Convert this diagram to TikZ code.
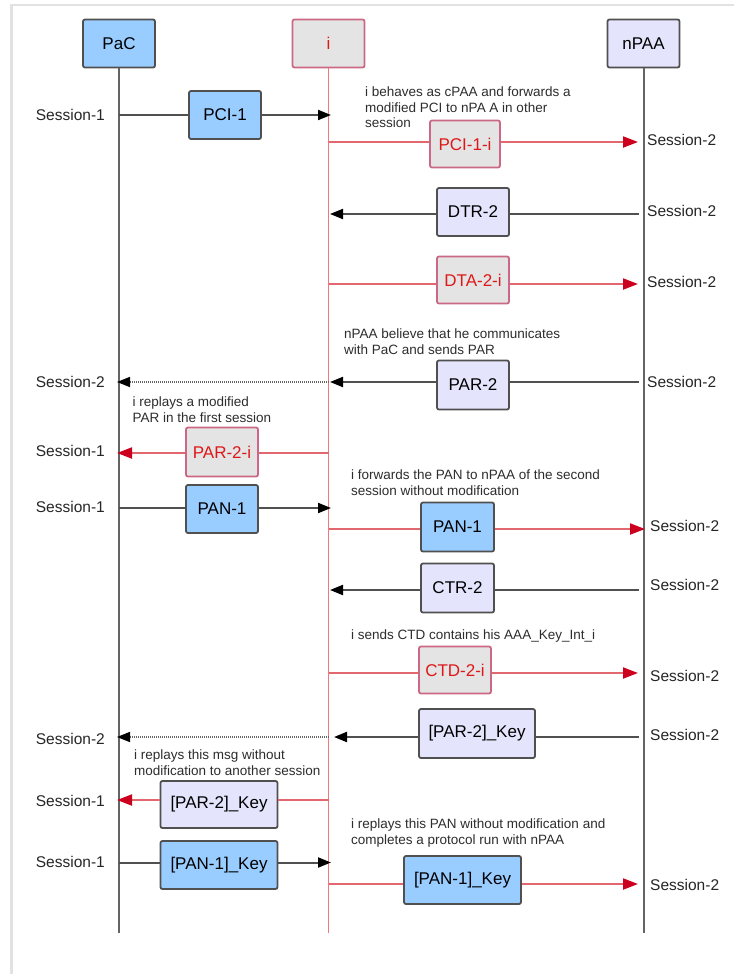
\documentclass[tikz,border=0pt]{standalone}
\usepackage{fontspec}
\setmainfont{Liberation Sans}
\usetikzlibrary{arrows.meta}

\definecolor{boxblue}{RGB}{153,204,255}
\definecolor{boxlav}{RGB}{228,228,252}
\definecolor{boxgray}{RGB}{228,228,228}
\definecolor{edgedark}{RGB}{80,80,80}
\definecolor{edgepink}{RGB}{204,104,134}
\definecolor{redline}{RGB}{226,104,112}
\definecolor{redlife}{RGB}{240,120,120}
\definecolor{redtip}{RGB}{204,0,30}
\definecolor{redtext}{RGB}{222,24,24}
\definecolor{lifegray}{RGB}{100,100,100}
\definecolor{framegray}{RGB}{226,226,226}
\definecolor{notegray}{RGB}{45,45,45}

\begin{document}
\begin{tikzpicture}[x=1pt,y=-1pt,
  boxbase/.style={rounded corners=2pt, line width=1.8pt, inner sep=0pt,
    minimum width=72pt, minimum height=48pt, font=\fontsize{17}{20}\selectfont},
  blue/.style={boxbase, fill=boxblue, draw=edgedark},
  lav/.style={boxbase, fill=boxlav, draw=edgedark},
  fake/.style={boxbase, fill=boxgray, draw=edgepink, text=redtext},
  wide/.style={minimum width=116pt},
  life/.style={draw=lifegray, line width=2pt},
  lifei/.style={draw=redlife, line width=1.4pt},
  msg/.style={draw=edgedark, line width=2pt},
  rmsg/.style={draw=redline, line width=2pt},
  relay/.style={draw=black!60, line width=1.6pt, dash pattern=on 1pt off 1pt},
  tipk/.style={-{Triangle[length=13pt,width=10pt,color=black]}},
  tipr/.style={-{Triangle[length=15pt,width=11pt,color=redtip]}},
  sess/.style={font=\fontsize{15.5}{18}\selectfont, text=black!85, inner sep=0pt},
  note/.style={font=\fontsize{13.5}{15.3}\selectfont, align=left, anchor=north west,
    inner sep=0pt, text=notegray}
]
\useasboundingbox (0,0) rectangle (734,974);
\fill[white] (0,0) rectangle (734,974);

% outer frame
\draw[framegray, line width=2.5pt] (11.5,974) -- (11.5,5) -- (734,5);

% participants
\node[blue] (pac) at (119,43.5) {PaC};
\node[boxbase, fill=boxgray, draw=edgepink, text=redtext] (iact) at (328.5,43.5) {i};
\node[lav] (npaa) at (643.5,43.5) {nPAA};

% lifelines
\coordinate (pacEnd) at (119,933);
\coordinate (iEnd) at (328.5,933);
\coordinate (npaaEnd) at (643.5,933);
\draw[life] (pac.south) -- (pacEnd);
\draw[lifei] (iact.south) -- (iEnd);
\draw[life] (npaa.south) -- (npaaEnd);

% ---------- PCI ----------
\node[note] (n1) at (365,87) {i behaves as cPAA and forwards a\\modified PCI to nPA A in other\\session};

\coordinate (a1) at (119,115); \coordinate (b1) at (331,115);
\node[blue] (pci1) at (225,115) {PCI-1};
\draw[msg] (a1) -- (pci1.west |- a1);
\draw[msg,tipk] (pci1.east |- a1) -- (b1);
\node[sess, anchor=east] (s1) at (105,115) {Session-1};

\coordinate (a2) at (328.5,142); \coordinate (b2) at (638,142);
\node[fake, minimum width=70pt, minimum height=47pt] (pci1i) at (465,144) {PCI-1-i};
\draw[rmsg] (a2) -- (pci1i.west |- a2);
\draw[rmsg,tipr] (pci1i.east |- a2) -- (b2);
\node[sess, anchor=west] (s2) at (647,140) {Session-2};

% ---------- DTR / DTA ----------
\coordinate (a3) at (639,214); \coordinate (b3) at (330,214);
\node[lav] (dtr) at (473,212) {DTR-2};
\draw[msg] (a3) -- (dtr.east |- a3);
\draw[msg,tipk] (dtr.west |- a3) -- (b3);
\node[sess, anchor=west] (s3) at (647,211) {Session-2};

\coordinate (a4) at (328.5,284); \coordinate (b4) at (638,284);
\node[fake, minimum height=47pt] (dta) at (473,280) {DTA-2-i};
\draw[rmsg] (a4) -- (dta.west |- a4);
\draw[rmsg,tipr] (dta.east |- a4) -- (b4);
\node[sess, anchor=west] (s4) at (647,282) {Session-2};

% ---------- PAR ----------
\node[note] (n2) at (344,329) {nPAA believe that he communicates\\with PaC and sends PAR};

\coordinate (a5) at (639,382); \coordinate (b5) at (330,382);
\node[lav, minimum height=49pt] (par2) at (473,385) {PAR-2};
\draw[msg] (a5) -- (par2.east |- a5);
\draw[msg,tipk] (par2.west |- a5) -- (b5);
\node[sess, anchor=west] (s5) at (647,382) {Session-2};

\coordinate (a6) at (328.5,382); \coordinate (b6) at (117,382);
\draw[relay,tipk] (a6) -- (b6);
\node[sess, anchor=east] (s6) at (105,382) {Session-2};

\node[note] (n3) at (132.5,397) {i replays a modified\\PAR in the first session};

\coordinate (a7) at (328.5,453); \coordinate (b7) at (117,453);
\node[fake, minimum height=49pt] (par2i) at (222,452) {PAR-2-i};
\draw[rmsg] (a7) -- (par2i.east |- a7);
\draw[rmsg,tipr] (par2i.west |- a7) -- (b7);
\node[sess, anchor=east] (s7) at (105,451) {Session-1};

% ---------- PAN ----------
\node[note] (n4) at (351,470) {i forwards the PAN to nPAA of the second\\session without modification};

\coordinate (a8) at (119,508); \coordinate (b8) at (331,508);
\node[blue] (pan1) at (222,509) {PAN-1};
\draw[msg] (a8) -- (pan1.west |- a8);
\draw[msg,tipk] (pan1.east |- a8) -- (b8);
\node[sess, anchor=east] (s8) at (105,507) {Session-1};

\coordinate (a9) at (328.5,529); \coordinate (b9) at (645,529);
\node[blue, minimum width=73pt, minimum height=49pt] (pan1r) at (457.5,527) {PAN-1};
\draw[rmsg] (a9) -- (pan1r.west |- a9);
\draw[rmsg,tipr] (pan1r.east |- a9) -- (b9);
\node[sess, anchor=west] (s9) at (650,526) {Session-2};

% ---------- CTR / CTD ----------
\coordinate (a10) at (639,590); \coordinate (b10) at (330,590);
\node[lav, minimum width=73pt, minimum height=49pt] (ctr) at (457.5,588) {CTR-2};
\draw[msg] (a10) -- (ctr.east |- a10);
\draw[msg,tipk] (ctr.west |- a10) -- (b10);
\node[sess, anchor=west] (s10) at (650,585) {Session-2};

\node[note] (n5) at (351,630) {i sends CTD contains his AAA\_Key\_Int\_i};

\coordinate (a11) at (328.5,673); \coordinate (b11) at (638,673);
\node[fake, minimum height=47pt] (ctd) at (455,670) {CTD-2-i};
\draw[rmsg] (a11) -- (ctd.west |- a11);
\draw[rmsg,tipr] (ctd.east |- a11) -- (b11);
\node[sess, anchor=west] (s11) at (650,676) {Session-2};

% ---------- keyed PAR ----------
\coordinate (a12) at (639,737); \coordinate (b12) at (334,737);
\node[lav, wide, minimum height=49pt] (park) at (477,733.5) {[PAR-2]\_Key};
\draw[msg] (a12) -- (park.east |- a12);
\draw[msg,tipk] (park.west |- a12) -- (b12);
\node[sess, anchor=west] (s12) at (650,735) {Session-2};

\coordinate (a13) at (328.5,737); \coordinate (b13) at (117,737);
\draw[relay,tipk] (a13) -- (b13);
\node[sess, anchor=east] (s13) at (105,739) {Session-2};

\node[note] (n6) at (134,750) {i replays this msg without\\modification to another session};

\coordinate (a14) at (328.5,800); \coordinate (b14) at (117,800);
\node[lav, wide, minimum width=117pt, minimum height=47pt] (parkl) at (219,804.5) {[PAR-2]\_Key};
\draw[rmsg] (a14) -- (parkl.east |- a14);
\draw[rmsg,tipr] (parkl.west |- a14) -- (b14);
\node[sess, anchor=east] (s14) at (105,801) {Session-1};

% ---------- keyed PAN ----------
\node[note] (n7) at (351,819) {i replays this PAN without modification and\\completes a protocol run with nPAA};

\coordinate (a15) at (119,862.5); \coordinate (b15) at (331,862.5);
\node[blue, minimum width=117pt] (pankl) at (219,865) {[PAN-1]\_Key};
\draw[msg] (a15) -- (pankl.west |- a15);
\draw[msg,tipk] (pankl.east |- a15) -- (b15);
\node[sess, anchor=east] (s15) at (105,862) {Session-1};

\coordinate (a16) at (328.5,884); \coordinate (b16) at (638,884);
\node[blue, minimum width=117pt] (pankr) at (462.5,880) {[PAN-1]\_Key};
\draw[rmsg] (a16) -- (pankr.west |- a16);
\draw[rmsg,tipr] (pankr.east |- a16) -- (b16);
\node[sess, anchor=west] (s16) at (650,885) {Session-2};

\end{tikzpicture}
\end{document}
